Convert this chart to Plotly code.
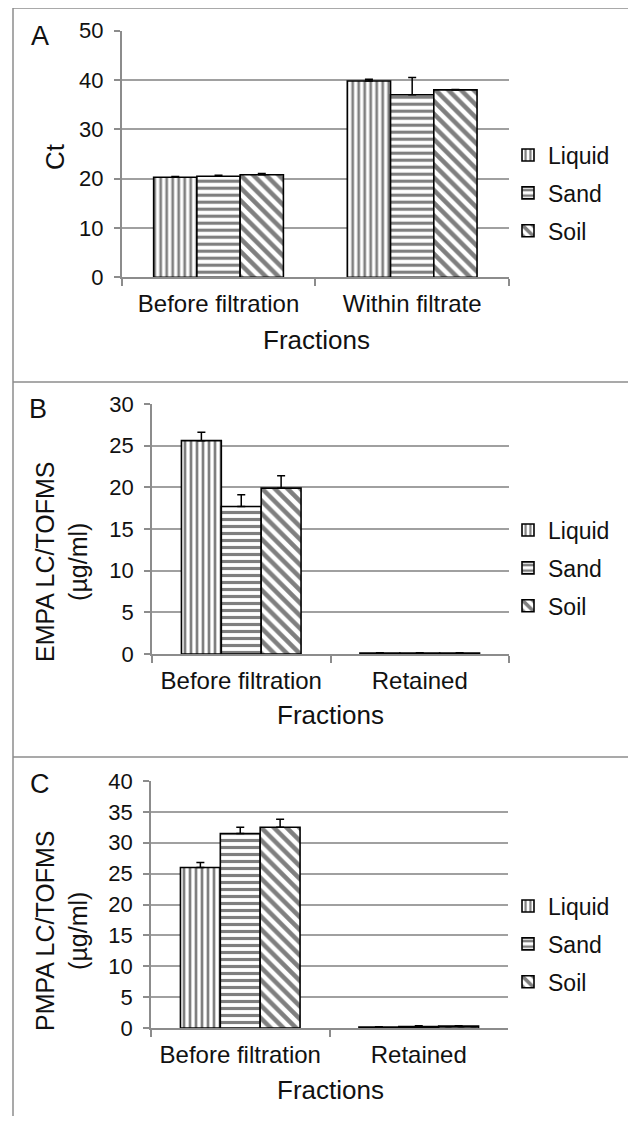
import plotly.graph_objects as go

# Page body has an 8px margin; the figure is sized to fit the 636x1124 window.
OFF = 8
W, H = 620, 1108

series = ["Liquid", "Sand", "Soil"]
patterns = {"Liquid": "|", "Sand": "-", "Soil": "\\"}
pat_size = {"Liquid": 6, "Sand": 7, "Soil": 9}
pat_solid = {"Liquid": 0.45, "Sand": 0.45, "Soil": 0.5}

cats_a = ["Before filtration", "Within filtrate"]
vals_a = {"Liquid": [20.3, 39.8], "Sand": [20.5, 37.0], "Soil": [20.8, 38.0]}
errs_a = {"Liquid": [0.15, 0.35], "Sand": [0.2, 3.5], "Soil": [0.25, 0.1]}

cats_b = ["Before filtration", "Retained"]
vals_b = {"Liquid": [25.6, 0.1], "Sand": [17.7, 0.1], "Soil": [19.9, 0.1]}
errs_b = {"Liquid": [1.0, 0.05], "Sand": [1.4, 0.05], "Soil": [1.5, 0.05]}

cats_c = ["Before filtration", "Retained"]
vals_c = {"Liquid": [26.0, 0.15], "Sand": [31.5, 0.25], "Soil": [32.5, 0.3]}
errs_c = {"Liquid": [0.8, 0.05], "Sand": [1.0, 0.1], "Soil": [1.3, 0.05]}

yticks_a = [0, 10, 20, 30, 40, 50]
yticks_b = [0, 5, 10, 15, 20, 25, 30]
yticks_c = [0, 5, 10, 15, 20, 25, 30, 35, 40]

FONT = "Liberation Sans, Arial, sans-serif"
TXT = "#111111"
AXC = "#8c8c8c"


def px(x):
    return (x - OFF) / W


def py(y):
    return 1 - (y - OFF) / H


fig = go.Figure()

panels = [
    ("x", "y", "legend", cats_a, vals_a, errs_a),
    ("x2", "y2", "legend2", cats_b, vals_b, errs_b),
    ("x3", "y3", "legend3", cats_c, vals_c, errs_c),
]

for xa, ya, lg, cats, vals, errs in panels:
    for s in series:
        fig.add_trace(go.Bar(
            x=cats, y=vals[s], name=s, xaxis=xa, yaxis=ya, legend=lg,
            legendgroup=lg + s,
            marker=dict(color="white",
                        line=dict(color="black", width=1.6),
                        pattern=dict(shape=patterns[s], fgcolor="black",
                                     bgcolor="white", size=pat_size[s],
                                     solidity=pat_solid[s])),
            error_y=dict(type="data", array=errs[s], arrayminus=[0, 0],
                         symmetric=False, color="black", thickness=1.5, width=4),
        ))


def yaxis(domain, ticks, xa):
    return dict(domain=domain, range=[0, ticks[-1]], tickvals=ticks,
                showgrid=True, gridcolor="#a0a0a0", gridwidth=1.5,
                showline=True, linecolor=AXC, linewidth=1.5,
                ticks="outside", ticklen=6, tickcolor=AXC, tickwidth=1.5,
                tickfont=dict(family=FONT, size=22, color=TXT),
                ticklabelstandoff=6, zeroline=False, anchor=xa, fixedrange=True)


def xaxis(domain, ya):
    return dict(domain=domain, type="category", anchor=ya,
                showline=True, linecolor=AXC, linewidth=1.5,
                ticks="outside", tickson="boundaries", ticklen=7,
                tickcolor=AXC, tickwidth=1.5, showgrid=False,
                ticklabelstandoff=4,
                tickfont=dict(family=FONT, size=24, color=TXT), fixedrange=True)


fig.update_layout(
    width=W, height=H,
    margin=dict(l=0, r=0, t=0, b=0, autoexpand=False),
    paper_bgcolor="white", plot_bgcolor="white",
    barmode="group", bargap=0.33, bargroupgap=0,
    showlegend=True,
    xaxis=xaxis([px(121.7), px(509)], "y"),
    yaxis=yaxis([py(277.3), py(30.7)], yticks_a, "x"),
    xaxis2=xaxis([px(152), px(509)], "y2"),
    yaxis2=yaxis([py(654), py(404)], yticks_b, "x2"),
    xaxis3=xaxis([px(151), px(508)], "y3"),
    yaxis3=yaxis([py(1028), py(781)], yticks_c, "x3"),
)

leg_common = dict(xanchor="left", yanchor="middle", bgcolor="rgba(0,0,0,0)",
                  font=dict(family=FONT, size=23, color=TXT),
                  tracegroupgap=5, itemwidth=30)
fig.update_layout(
    legend=dict(x=px(508), y=py(193), **leg_common),
    legend2=dict(x=px(508), y=py(568), **leg_common),
    legend3=dict(x=px(508), y=py(944), **leg_common),
)

ann = []


def add_text(text, x, y, size, angle=0):
    ann.append(dict(text=text, x=px(x), y=py(y), xref="paper", yref="paper",
                    showarrow=False, textangle=angle, xanchor="center",
                    yanchor="middle", font=dict(family=FONT, size=size, color=TXT)))


add_text("A", 40, 36, 27)
add_text("B", 38, 409, 27)
add_text("C", 40, 784, 27)
add_text("Ct", 55, 157, 26, -90)
add_text("EMPA LC/TOFMS<br>(µg/ml)", 61, 562, 25, -90)
add_text("PMPA LC/TOFMS<br>(µg/ml)", 61, 931, 25, -90)
add_text("Fractions", 316, 340, 26)
add_text("Fractions", 330, 715, 26)
add_text("Fractions", 330, 1090, 26)
fig.update_layout(annotations=ann)

shapes = []
for (x0, y0, x1, y1) in [(13, 8, 636, 8), (13, 8, 13, 1124),
                         (13, 382, 636, 382), (13, 757, 636, 757)]:
    shapes.append(dict(type="line", xref="paper", yref="paper",
                       x0=px(x0), y0=py(y0), x1=px(x1), y1=py(y1),
                       line=dict(color="#8c8c8c", width=1.5)))
fig.update_layout(shapes=shapes)

fig.write_html("out.html")
